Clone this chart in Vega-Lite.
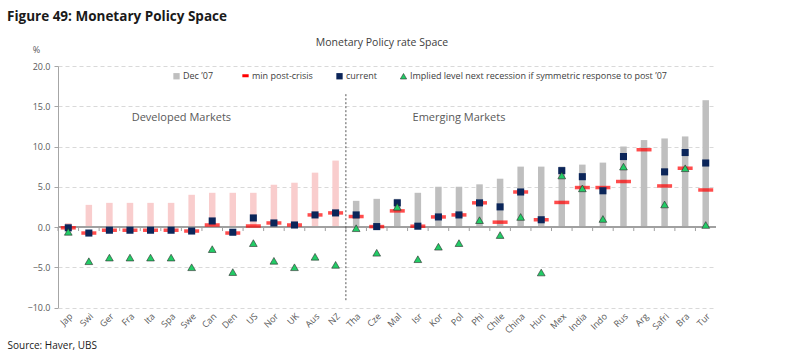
{
  "$schema": "https://vega.github.io/schema/vega-lite/v6.json",
  "autosize": {"type": "none"},
  "width": 658,
  "height": 241.5,
  "padding": {"left": 58, "top": 66, "right": 69, "bottom": 55.5},
  "background": "white",
  "config": {
    "font": "Open Sans",
    "view": {"stroke": null},
    "axis": {"labelColor": "#595959", "labelFontSize": 9, "domainColor": "#a6a6a6", "tickColor": "#a6a6a6"}
  },
  "title": {"text": "Figure 49: Monetary Policy Space", "anchor": "start", "frame": "group", "dx": -51, "offset": 14, "fontSize": 13.5, "fontWeight": "bold", "font": "Open Sans", "color": "#1a1a1a"},
  "data": {"values": [
    {"c": "Jap", "g": "DM", "dec": 0.5, "min": -0.1, "cur": -0.1, "imp": -0.6},
    {"c": "Swi", "g": "DM", "dec": 2.75, "min": -0.75, "cur": -0.75, "imp": -4.25},
    {"c": "Ger", "g": "DM", "dec": 3.0, "min": -0.4, "cur": -0.4, "imp": -3.8},
    {"c": "Fra", "g": "DM", "dec": 3.0, "min": -0.4, "cur": -0.4, "imp": -3.8},
    {"c": "Ita", "g": "DM", "dec": 3.0, "min": -0.4, "cur": -0.4, "imp": -3.8},
    {"c": "Spa", "g": "DM", "dec": 3.0, "min": -0.4, "cur": -0.4, "imp": -3.8},
    {"c": "Swe", "g": "DM", "dec": 4.0, "min": -0.5, "cur": -0.5, "imp": -5.0},
    {"c": "Can", "g": "DM", "dec": 4.25, "min": 0.25, "cur": 0.75, "imp": -2.75},
    {"c": "Den", "g": "DM", "dec": 4.25, "min": -0.75, "cur": -0.65, "imp": -5.6},
    {"c": "US", "g": "DM", "dec": 4.25, "min": 0.125, "cur": 1.125, "imp": -2.0},
    {"c": "Nor", "g": "DM", "dec": 5.25, "min": 0.5, "cur": 0.5, "imp": -4.2},
    {"c": "UK", "g": "DM", "dec": 5.5, "min": 0.25, "cur": 0.25, "imp": -5.0},
    {"c": "Aus", "g": "DM", "dec": 6.75, "min": 1.5, "cur": 1.5, "imp": -3.7},
    {"c": "NZ", "g": "DM", "dec": 8.25, "min": 1.75, "cur": 1.75, "imp": -4.7},
    {"c": "Tha", "g": "EM", "dec": 3.25, "min": 1.3, "cur": 1.5, "imp": -0.15},
    {"c": "Cze", "g": "EM", "dec": 3.5, "min": 0.05, "cur": 0.05, "imp": -3.2},
    {"c": "Mal", "g": "EM", "dec": 3.5, "min": 2.0, "cur": 3.0, "imp": 2.5},
    {"c": "Isr", "g": "EM", "dec": 4.25, "min": 0.1, "cur": 0.1, "imp": -4.0},
    {"c": "Kor", "g": "EM", "dec": 5.0, "min": 1.25, "cur": 1.25, "imp": -2.45},
    {"c": "Pol", "g": "EM", "dec": 5.0, "min": 1.5, "cur": 1.5, "imp": -2.0},
    {"c": "Phi", "g": "EM", "dec": 5.3, "min": 3.0, "cur": 3.0, "imp": 0.85},
    {"c": "Chile", "g": "EM", "dec": 6.0, "min": 0.6, "cur": 2.5, "imp": -1.0},
    {"c": "China", "g": "EM", "dec": 7.5, "min": 4.35, "cur": 4.35, "imp": 1.25},
    {"c": "Hun", "g": "EM", "dec": 7.5, "min": 0.9, "cur": 0.9, "imp": -5.65},
    {"c": "Mex", "g": "EM", "dec": 7.5, "min": 3.05, "cur": 7.0, "imp": 6.4},
    {"c": "India", "g": "EM", "dec": 7.75, "min": 4.9, "cur": 6.25, "imp": 4.8},
    {"c": "Indo", "g": "EM", "dec": 8.0, "min": 4.9, "cur": 4.5, "imp": 1.0},
    {"c": "Rus", "g": "EM", "dec": 10.0, "min": 5.65, "cur": 8.75, "imp": 7.5},
    {"c": "Arg", "g": "EM", "dec": 10.8, "min": 9.6, "cur": null, "imp": null},
    {"c": "Safri", "g": "EM", "dec": 11.0, "min": 5.1, "cur": 6.85, "imp": 2.8},
    {"c": "Bra", "g": "EM", "dec": 11.25, "min": 7.3, "cur": 9.25, "imp": 7.3},
    {"c": "Tur", "g": "EM", "dec": 15.75, "min": 4.6, "cur": 7.95, "imp": 0.25}
  ]},
  "layer": [
    {
      "mark": {"type": "bar", "size": 6.5},
      "encoding": {
        "x": {"field": "c", "type": "nominal", "sort": null, "title": "Source:  Haver, UBS",
              "scale": {"type": "band", "paddingInner": 0, "paddingOuter": 0},
              "axis": {"orient": "bottom", "title": "Source:  Haver, UBS", "titleX": -51, "titleY": 33, "titleAnchor": "start", "titleAlign": "left", "titleFontWeight": "normal", "titleFontSize": 10, "titleColor": "#1a1a1a", "labelAngle": -45, "domain": false, "ticks": false, "labelPadding": 4, "labelFontSize": 9}},
        "y": {"field": "dec", "type": "quantitative", "title": "%",
              "scale": {"domain": [-10, 20], "nice": false, "zero": false},
              "axis": {"values": [-10, -5, 0, 5, 10, 15, 20], "format": ".1f", "grid": true, "gridDash": [4, 3], "gridColor": "#d9d9d9", "tickSize": 4, "labelPadding": 4, "titleAngle": 0, "titleX": -22, "titleY": -17, "titleAlign": "center", "titleBaseline": "middle", "titleFontWeight": "normal", "titleFontSize": 9, "titleColor": "#595959"}},
        "color": {"condition": {"test": "datum.g === 'DM'", "value": "#f9cdcd"}, "datum": "Dec ’07",
                  "scale": {"domain": ["Dec ’07", "min post-crisis", "current", "Implied level next recession if symmetric response to post ’07"], "range": ["#bfbfbf", "#ff0000", "#0b2559", "#22cc66"]},
                  "legend": {"orient": "none", "legendX": 114, "legendY": 5, "direction": "horizontal", "title": null, "labelFontSize": 9, "labelColor": "#404040", "labelLimit": 0, "columnPadding": 22, "symbolSize": 40, "labelOffset": 2,
                    "encode": {"symbols": {"update": {
                      "shape": {"signal": "datum.index === 1 ? 'stroke' : (datum.index === 3 ? 'triangle-up' : 'square')"},
                      "stroke": {"signal": "datum.index === 1 ? '#ff0000' : (datum.index === 3 ? '#333333' : 'transparent')"},
                      "strokeWidth": {"signal": "datum.index === 1 ? 3 : 0.6"},
                      "opacity": {"value": 1}
                    }}}}}
      }
    },
    {
      "mark": {"type": "rule", "color": "#a0a0a0", "strokeWidth": 1.2},
      "encoding": {
        "y": {"datum": 0}
      }
    },
    {
      "mark": {"type": "rule", "color": "#a0a0a0", "strokeWidth": 1},
      "encoding": {
        "x": {"field": "c", "type": "nominal", "sort": null, "bandPosition": 0, "title": "Source:  Haver, UBS"},
        "y": {"datum": 0},
        "y2": {"datum": -0.5}
      }
    },
    {
      "mark": {"type": "tick", "thickness": 3.5, "size": 15},
      "encoding": {
        "x": {"field": "c", "type": "nominal", "sort": null, "title": "Source:  Haver, UBS"},
        "y": {"field": "min", "type": "quantitative", "title": "%"},
        "color": {"datum": "min post-crisis"}
      }
    },
    {
      "mark": {"type": "point", "shape": "square", "filled": true, "size": 50, "opacity": 1},
      "encoding": {
        "x": {"field": "c", "type": "nominal", "sort": null, "title": "Source:  Haver, UBS"},
        "y": {"field": "cur", "type": "quantitative", "title": "%"},
        "color": {"datum": "current"}
      }
    },
    {
      "mark": {"type": "point", "shape": "triangle-up", "filled": true, "size": 60, "opacity": 1, "stroke": "#2b2b2b", "strokeWidth": 0.6},
      "encoding": {
        "x": {"field": "c", "type": "nominal", "sort": null, "title": "Source:  Haver, UBS"},
        "y": {"field": "imp", "type": "quantitative", "title": "%"},
        "color": {"datum": "Implied level next recession if symmetric response to post ’07"}
      }
    },
    {
      "data": {"values": [{}]},
      "mark": {"type": "rule", "strokeDash": [2, 2], "color": "#555555", "strokeWidth": 1},
      "encoding": {
        "x": {"datum": "Tha", "bandPosition": 0},
        "y": {"datum": 16.5},
        "y2": {"datum": -9.3}
      }
    },
    {
      "data": {"values": [{}]},
      "mark": {"type": "text", "fontSize": 11, "color": "#595959"},
      "encoding": {
        "x": {"datum": "Swe", "bandPosition": 0},
        "y": {"datum": 13.5},
        "text": {"value": "Developed Markets"}
      }
    },
    {
      "data": {"values": [{}]},
      "mark": {"type": "text", "fontSize": 11, "color": "#595959"},
      "encoding": {
        "x": {"datum": "Pol"},
        "y": {"datum": 13.5},
        "text": {"value": "Emerging Markets"}
      }
    },
    {
      "data": {"values": [{}]},
      "mark": {"type": "text", "fontSize": 10.5, "color": "#404040", "dx": -5},
      "encoding": {
        "x": {"datum": "Mal", "bandPosition": 0},
        "y": {"datum": 22.9},
        "text": {"value": "Monetary Policy rate Space"}
      }
    }
  ]
}
